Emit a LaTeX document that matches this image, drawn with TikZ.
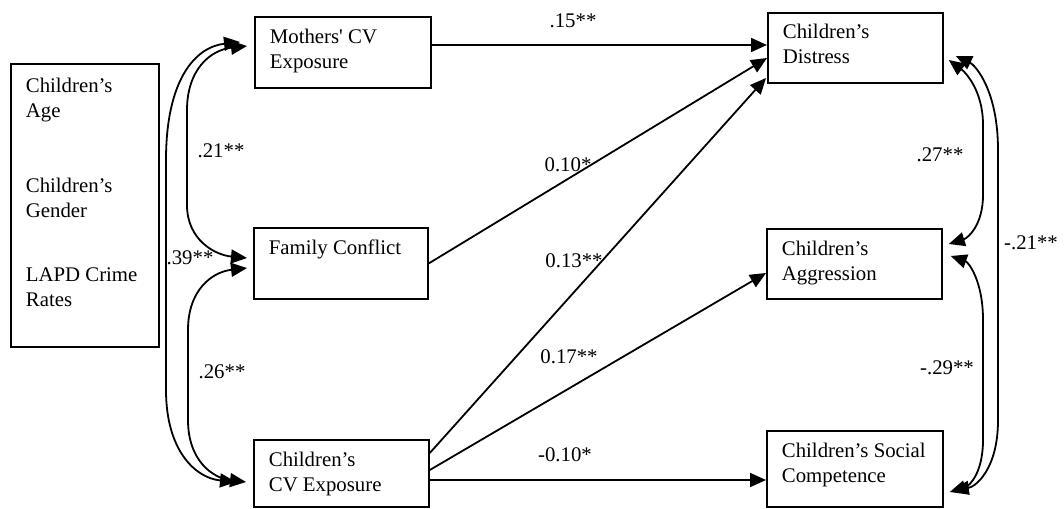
\documentclass[tikz,border=0pt]{standalone}
\usepackage{fontspec}
\setmainfont{Liberation Serif}
\usetikzlibrary{arrows.meta,calc}
\font\plainquotefont="Liberation Serif" at 20.8pt
\newcommand{\bx}[4][27]{\parbox[c][#3pt][t]{#2pt}{\leftskip=15pt\rightskip=0pt plus 1fil\parindent=0pt\parfillskip=0pt plus 1fil\rule{0pt}{#1pt}#4}}
\begin{document}
\begin{tikzpicture}[x=1pt,y=-1pt,line width=1.8pt,
  box/.style={draw,line width=1.8pt,inner sep=0pt,anchor=north west,font=\fontsize{20.8}{25}\selectfont},
  lab/.style={inner sep=0pt,font=\fontsize{20.8}{25}\selectfont},
  arr/.style={-{Triangle[length=16pt,width=14pt]}},
  biarr/.style={{Triangle[length=16pt,width=14pt]}-{Triangle[length=16pt,width=14pt]}}]
\useasboundingbox (0,0) rectangle (1064,508);
% boxes
\node[box] (cov) at (10,63) {\bx[29]{148}{283}{Children’s\\Age\\[50pt]Children’s\\Gender\\[39pt]LAPD Crime\\Rates}};
\node[box] (mce) at (254,16) {\bx{176}{71}{Mothers{\plainquotefont'} CV\\Exposure}};
\node[box] (fc) at (253,227) {\bx{174}{71}{Family Conflict}};
\node[box] (cce) at (253,439) {\bx{175}{67}{Children’s\\CV Exposure}};
\node[box] (dis) at (767,12) {\bx[26]{175}{70}{Children’s\\Distress}};
\node[box] (agg) at (766,228) {\bx{175}{70}{Children’s\\Aggression}};
\node[box] (soc) at (766,430) {\bx{176}{76}{Children’s Social\\Competence}};
% straight paths
\draw[arr] ($(mce.north east)+(0,29)$) -- ($(dis.north west)+(0,33)$);
\draw[arr] (fc.east) -- ($(dis.north west)+(0,46)$);
\draw[arr] ($(cce.north east)+(0,14)$) -- ($(dis.north west)+(-1,66)$);
\draw[arr] ($(cce.north east)+(0,31)$) -- ($(agg.north west)+(0,45)$);
\draw[arr] ($(cce.north east)+(0,41)$) -- ($(soc.north west)+(0,50)$);
% left correlations
\draw[biarr] ($(mce.north west)+(-7,30)$) .. controls (210,50) and (187,70) .. (187,110) -- (187,205) .. controls (187,240) and (215,255) .. ($(fc.north west)+(-6,31)$);
\draw[biarr] ($(mce.north west)+(-14,26)$) .. controls (195,47) and (166,80) .. (166,160) -- (166,390) .. controls (166,450) and (195,478) .. ($(cce.north west)+(-17,43)$);
\draw[biarr] ($(fc.north west)+(-6,41)$) .. controls (212,272) and (188,290) .. (188,330) -- (188,420) .. controls (188,460) and (212,478) .. ($(cce.north west)+(-7,43)$);
% right correlations
\draw[biarr] ($(dis.north east)+(5,48)$) .. controls (965,72) and (983,90) .. (983,125) -- (983,195) .. controls (983,225) and (968,238) .. ($(agg.north east)+(6,16)$);
\draw[biarr] ($(dis.north east)+(12,44)$) .. controls (975,65) and (998,90) .. (998,150) -- (998,420) .. controls (998,470) and (975,487) .. ($(soc.north east)+(9,60)$);
\draw[biarr] ($(agg.north east)+(8,28)$) .. controls (968,262) and (983,280) .. (983,320) -- (983,440) .. controls (983,472) and (970,486) .. ($(soc.north east)+(6,62)$);
% labels
\node[lab] (l15) at (573,21) {.15**};
\node[lab] (l10) at (568,165) {0.10*};
\node[lab] (l13) at (574,261) {0.13**};
\node[lab] (l17) at (569,357) {0.17**};
\node[lab] (lm10) at (565,455) {-0.10*};
\node[lab] (l21) at (221,151) {.21**};
\node[lab] (l39) at (190,258) {.39**};
\node[lab] (l26) at (222,372) {.26**};
\node[lab] (l27) at (940,155) {.27**};
\node[lab] (lm21) at (1031,243) {-.21**};
\node[lab] (lm29) at (947,368) {-.29**};
\end{tikzpicture}
\end{document}
